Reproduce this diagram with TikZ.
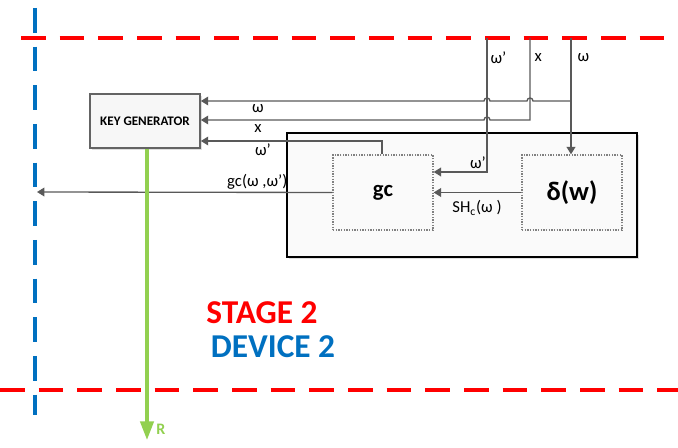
\documentclass[tikz,border=0pt]{standalone}
\usepackage{fontspec}
\setmainfont{Carlito}
\usetikzlibrary{arrows.meta,positioning,shadows,calc}
\definecolor{stagered}{RGB}{255,0,0}
\definecolor{deviceblue}{RGB}{0,112,192}
\definecolor{keygreen}{RGB}{146,208,80}
\definecolor{wiregray}{RGB}{89,89,89}
\definecolor{boxgray}{RGB}{100,100,100}

\tikzset{
  wire/.style={draw=wiregray, line width=1pt},
  wirearrow/.style={wire, -{Triangle[length=5.5pt,width=6.5pt]}},
  lbl/.style={font=\fontsize{12.5}{14}\selectfont, text=black, inner sep=1pt},
  keybox/.style={draw=boxgray, line width=1.3pt, fill=gray!6, minimum width=82.5pt,
    minimum height=40.5pt, font=\bfseries\fontsize{9.8}{11}\selectfont,
    drop shadow={opacity=0.25, shadow xshift=1.5pt, shadow yshift=-1.5pt}},
  outerbox/.style={draw=black, line width=1.4pt, fill=gray!4, minimum width=262.5pt,
    minimum height=93pt, drop shadow={opacity=0.25, shadow xshift=1.5pt, shadow yshift=-1.5pt}},
  dotbox/.style={draw=gray, densely dotted, line width=1pt, minimum width=75pt,
    minimum height=56.25pt, font=\bfseries},
  hline/.style={line width=2.3pt, dash pattern=on 18.5pt off 10.5pt},
}

\begin{document}
\begin{tikzpicture}[x=0.75pt,y=-0.75pt]
  \useasboundingbox (0,0) rectangle (678,448);
  % stage and device borders
  \draw[hline, stagered] (21,38) -- (678,38);
  \draw[hline, stagered] (0,390) -- (678,390);
  \draw[hline, deviceblue] (35,8) -- (35,415);
  \coordinate (edge) at (37,192);

  % boxes
  \node[keybox] (keygen) at (145,121) {KEY GENERATOR};
  \node[outerbox] (outer) at (462,195) {};
  \node[dotbox, font=\bfseries\fontsize{17}{20}\selectfont] (gc) at (383,192.5) {gc};
  \node[dotbox, font=\bfseries\fontsize{20}{24}\selectfont] (delta) at (572,192.5) {δ(w)};

  % inputs from the top
  \coordinate (tin1) at (487,38);
  \coordinate (tin2) at (530,38);
  \coordinate (tin3) at (571,38);
  \node[lbl, right] at (489,58) {ω'};
  \node[lbl, right] at (533,58) {x};
  \node[lbl, right] at (576,58) {ω};

  % omega to delta and key generator
  \draw[wirearrow] (tin3) -- (delta.north -| tin3);
  \draw[wirearrow] (tin3 |- 0,101) -- (533,101)
    arc[start angle=0, end angle=180, radius=2.25pt] -- (490,101)
    arc[start angle=0, end angle=180, radius=2.25pt] -- (keygen.east |- 0,101);
  \node[lbl] at (258,109) {ω};
  % x to key generator
  \draw[wirearrow] (tin2) -- (tin2 |- 0,120) -- (490,120)
    arc[start angle=0, end angle=180, radius=2.25pt] -- (keygen.east |- 0,120);
  \node[lbl] at (258,129) {x};
  % omega' to gc
  \draw[wirearrow] (tin1) -- (tin1 |- 0,172) -- (gc.east |- 0,172);
  \node[lbl] at (478,163) {ω'};
  % gc back to key generator
  \draw[wirearrow] (gc.north -| 382,0) -- (382,141) -- (keygen.east |- 0,141);
  \node[lbl] at (263,150) {ω'};
  % share to gc
  \draw[wirearrow] (delta.west) -- (gc.east);
  \node[lbl] at (477,208) {SH\textsubscript{c}(ω )};
  % gc output
  \draw[wirearrow] (gc.west) -- (edge);
  \node[lbl, above left] at (289,191) {gc(ω ,ω')};

  % key out
  \coordinate (rout) at (147,440);
  \draw[keygreen, line width=2.5pt, -{Triangle[length=14pt,width=10pt]}] (keygen.south -| rout) -- (rout);
  \node[text=keygreen, font=\bfseries\fontsize{12}{14}\selectfont] at (161,429) {R};

  % stage and device names
  \node[text=stagered, font=\bfseries\fontsize{25}{28}\selectfont] (stage) at (262,313) {STAGE 2};
  \node[text=deviceblue, font=\bfseries\fontsize{25}{28}\selectfont] (device) at (273,347) {DEVICE 2};
\end{tikzpicture}
\end{document}
